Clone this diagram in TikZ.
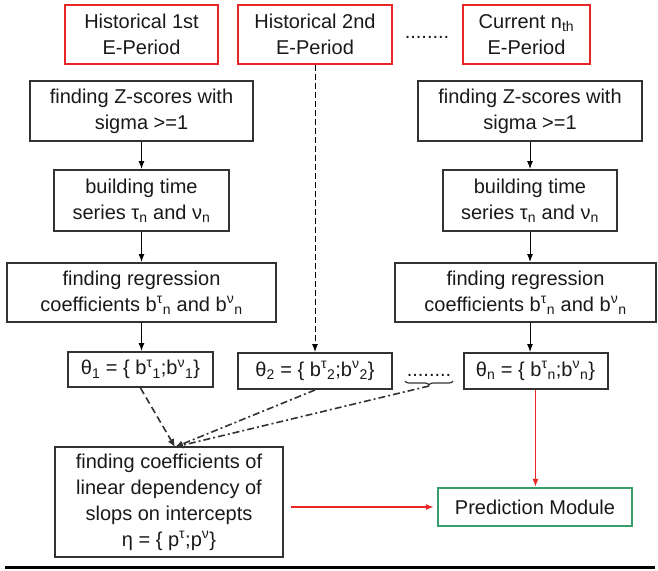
\documentclass[tikz,border=0pt]{standalone}
\usepackage{fontspec}
\setmainfont{Liberation Sans}
\usetikzlibrary{arrows.meta,positioning,decorations.pathreplacing}
\definecolor{periodred}{RGB}{232,38,38}
\definecolor{predgreen}{RGB}{56,158,108}
\definecolor{boxgray}{RGB}{50,50,50}

\begin{document}
\begin{tikzpicture}[x=1pt,y=-1pt,
  every node/.style={font=\fontsize{20}{26}\selectfont, align=center, inner sep=0pt, text=black!90},
  period/.style={draw=periodred, line width=2.2pt, minimum height=59pt},
  stepbox/.style={draw=boxgray, line width=2pt},
  thetabox/.style={draw=boxgray, line width=2pt, minimum height=36pt},
  arr/.style={-{Latex[length=8pt,width=6pt]}, line width=1pt, black},
  dashln/.style={dash pattern=on 7pt off 4pt, line width=1.6pt, boxgray},
  dashdotln/.style={dash pattern=on 7pt off 3pt on 2pt off 3pt, line width=1.6pt, boxgray},
  redarr/.style={-{Latex[length=8pt,width=6pt]}, line width=1.5pt, periodred}]
\useasboundingbox (0,0) rectangle (658,570);

\node[period, minimum width=153pt] (H1) at (141.5,34.5) {Historical 1st\\E-Period};
\node[period, minimum width=154pt] (H2) at (315,34.5) {Historical 2nd\\E-Period};
\node[period, minimum width=127pt] (Hn) at (526.5,34.5) {Current n\textsubscript{th}\\E-Period};
\node (topdots) at (427,37) {........};

\node[stepbox, minimum width=223pt, minimum height=60pt] (Z1) at (141.5,111) {finding Z-scores with\\sigma >=1};
\node[stepbox, minimum width=175pt, minimum height=61pt] (B1) at (141.5,200.5) {building time\\series τ\textsubscript{n} and ν\textsubscript{n}};
\node[stepbox, minimum width=269pt, minimum height=59pt] (R1) at (141.5,292.5) {finding regression\\coefficients b\textsuperscript{τ}\textsubscript{n} and b\textsuperscript{ν}\textsubscript{n}};

\node[stepbox, minimum width=224pt, minimum height=60pt] (Zn) at (530,111) {finding Z-scores with\\sigma >=1};
\node[stepbox, minimum width=174pt, minimum height=61pt] (Bn) at (530,200.5) {building time\\series τ\textsubscript{n} and ν\textsubscript{n}};
\node[stepbox, minimum width=261pt, minimum height=59pt] (Rn) at (525.5,292.5) {finding regression\\coefficients b\textsuperscript{τ}\textsubscript{n} and b\textsuperscript{ν}\textsubscript{n}};

\node[thetabox, minimum width=145pt, minimum height=35pt] (th1) at (140.5,369.5) {θ\textsubscript{1} = \{ b\textsuperscript{τ}\textsubscript{1};b\textsuperscript{ν}\textsubscript{1}\}};
\node[thetabox, minimum width=154pt] (th2) at (315,371) {θ\textsubscript{2} = \{ b\textsuperscript{τ}\textsubscript{2};b\textsuperscript{ν}\textsubscript{2}\}};
\node[thetabox, minimum width=144pt] (thn) at (535.5,371) {θ\textsubscript{n} = \{ b\textsuperscript{τ}\textsubscript{n};b\textsuperscript{ν}\textsubscript{n}\}};
\node (middots) at (429,375) {........};
\draw[decorate, decoration={brace, mirror, amplitude=4pt}, line width=1.2pt, boxgray] (405,381) -- (453,381);
\coordinate (brtip) at (429,386);

\node[stepbox, minimum width=228pt, minimum height=110pt] (F) at (169,502) {finding coefficients of\\linear dependency of\\slops on intercepts\\η = \{ p\textsuperscript{τ};p\textsuperscript{ν}\}};
\node[draw=predgreen, line width=2.2pt, minimum width=194pt, minimum height=38pt] (pred) at (535,507) {Prediction Module};
\coordinate (meet) at (175,447);

\draw[arr] (Z1.south) -- (Z1.south |- B1.north);
\draw[arr] (B1.south) -- (B1.south |- R1.north);
\draw[arr] (R1.south) -- (R1.south |- th1.north);
\draw[arr] (Zn.south) -- (Zn.south |- Bn.north);
\draw[arr] (Bn.south) -- (Bn.south |- Rn.north);
\draw[arr] (Bn.south |- Rn.south) -- (Bn.south |- thn.north);
\draw[arr, dash pattern=on 6pt off 3pt] (H2.south) -- (th2.north);

\draw[dashln, -{Latex[length=8pt,width=7pt]}] (th1.south) -- (meet);
\draw[dashdotln, -{Latex[length=8pt,width=7pt]}] (th2.south) -- (meet);
\draw[dashdotln, -{Latex[length=8pt,width=7pt]}] (brtip) -- (meet);

\draw[redarr] (thn.south) -- (thn.south |- pred.north);
\draw[redarr, shorten <=7pt, shorten >=3pt] (F.east |- pred.west) -- (pred.west);

\draw[line width=3pt] (5,567) -- (655,567);
\end{tikzpicture}
\end{document}
